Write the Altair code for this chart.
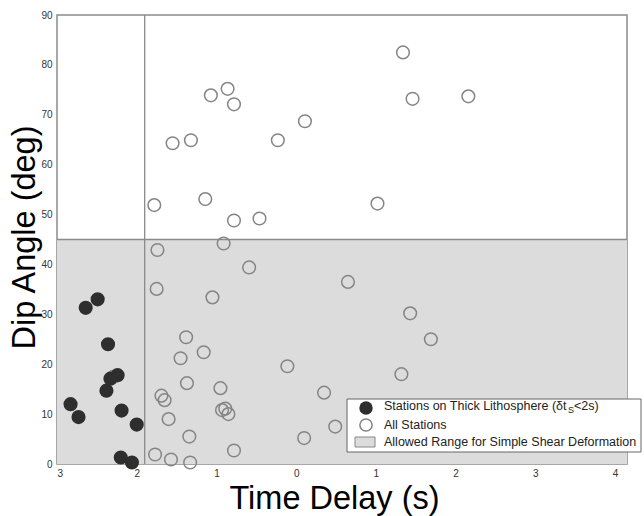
import altair as alt
import pandas as pd

# ---- data ----
thick_x = [-2.49, -2.64, -2.36, -2.24, -2.33, -2.38, -2.83, -2.73, -2.19, -2.00, -2.20, -2.06]
thick_y = [33.0, 31.3, 24.0, 17.8, 17.1, 14.7, 12.0, 9.4, 10.7, 7.9, 1.3, 0.3]

all_x = [-1.74, -0.91, -0.59, -1.75, -1.05, -1.38, -1.16, -1.45, -1.37, -0.95,
         -1.69, -1.65, -0.93, -0.89, -0.85, -1.60, -1.34, -0.78, -1.77, -1.57,
         -1.33, -2.29,
         1.34, -0.86, -1.07, -0.78, 1.46, 2.16, 0.11, -1.55, -1.32, -0.23,
         -1.78, -1.14, -0.78, -0.46, 1.02,
         0.65, 1.43, 1.69, -0.11, 1.32, 0.35, 0.49, 0.10]
all_y = [42.9, 44.2, 39.4, 35.1, 33.4, 25.4, 22.4, 21.2, 16.2, 15.2,
         13.7, 12.8, 10.8, 11.1, 10.0, 9.0, 5.5, 2.7, 1.9, 0.9,
         0.3, 17.5,
         82.5, 75.2, 73.9, 72.1, 73.2, 73.7, 68.7, 64.3, 64.9, 64.9,
         51.9, 53.1, 48.8, 49.2, 52.2,
         36.5, 30.2, 25.0, 19.6, 18.0, 14.3, 7.5, 5.2]

x_ticks = [-3, -2, -1, 0, 1, 2, 3, 4]
y_ticks = [0, 10, 20, 30, 40, 50, 60, 70, 80, 90]
x_domain = [-3, 4.15]
y_domain = [0, 90]
shear_limit = 45
thick_limit = -1.9

legend_labels = ["Stations on Thick Lithosphere (\u03b4t", "S", "<2s)",
                 "All Stations", "Allowed Range for Simple Shear Deformation"]

FONT = "Liberation Sans"

xs = alt.Scale(domain=x_domain, nice=False, zero=False)
ys = alt.Scale(domain=y_domain, nice=False, zero=False)

band_df = pd.DataFrame({"x": [x_domain[0]], "x2": [x_domain[1]],
                        "y": [y_domain[0]], "y2": [shear_limit]})

band = alt.Chart(band_df).mark_rect(color="#dcdcdc").encode(
    x=alt.X("x:Q", scale=xs, axis=alt.Axis(
        values=x_ticks, labelExpr="abs(datum.value)", title="Time Delay (s)",
        grid=False, ticks=False, domain=False, labelFontSize=10, labelColor="#333",
        labelPadding=4, titleFontSize=32.5, titleFontWeight="normal", titleColor="#000",
        titleX=277, titleY=44, titleBaseline="alphabetic", labelFont=FONT, titleFont=FONT)),
    x2="x2:Q",
    y=alt.Y("y:Q", scale=ys, axis=alt.Axis(
        values=y_ticks, title="Dip Angle (deg)", grid=False, ticks=False, domain=False,
        labelFontSize=10, labelColor="#333", labelPadding=5, titleFontSize=32.5,
        titleFontWeight="normal", titleColor="#000", titleX=-23, titleY=222,
        titleAngle=-90, titleBaseline="alphabetic", titleAlign="center",
        labelFont=FONT, titleFont=FONT)),
    y2="y2:Q",
)

hline = alt.Chart(pd.DataFrame({"y": [shear_limit]})).mark_rule(
    color="#8a8a8a", strokeWidth=1.3).encode(y=alt.Y("y:Q", scale=ys))
vline = alt.Chart(pd.DataFrame({"x": [thick_limit]})).mark_rule(
    color="#8a8a8a", strokeWidth=1.3).encode(x=alt.X("x:Q", scale=xs))

all_df = pd.DataFrame({"x": all_x, "y": all_y})
thick_df = pd.DataFrame({"x": thick_x, "y": thick_y})

hollow = alt.Chart(all_df).mark_point(
    shape="circle", filled=False, stroke="#858585", strokeWidth=1.5, size=160,
    opacity=1).encode(x=alt.X("x:Q", scale=xs), y=alt.Y("y:Q", scale=ys))
filled = alt.Chart(thick_df).mark_circle(
    color="#2e2e2e", size=200, opacity=1).encode(
    x=alt.X("x:Q", scale=xs), y=alt.Y("y:Q", scale=ys))

one = pd.DataFrame({"a": [0]})
leg_box = alt.Chart(one).mark_rect(fill="white", stroke="#666", strokeWidth=1).encode(
    x=alt.value(290), x2=alt.value(584), y=alt.value(384), y2=alt.value(437))
leg_filled = alt.Chart(one).mark_circle(color="#2e2e2e", size=180, opacity=1).encode(
    x=alt.value(309), y=alt.value(393))
leg_hollow = alt.Chart(one).mark_point(shape="circle", filled=False, stroke="#858585",
                                       strokeWidth=1.5, size=150, opacity=1).encode(
    x=alt.value(309), y=alt.value(410))
leg_rect = alt.Chart(one).mark_rect(fill="#dcdcdc", stroke="#888", strokeWidth=1).encode(
    x=alt.value(298), x2=alt.value(318), y=alt.value(422), y2=alt.value(432))

def txt(s, x, y, size=12.5):
    return alt.Chart(one).mark_text(align="left", baseline="middle", fontSize=size,
                                    font=FONT, color="#222").encode(
        x=alt.value(x), y=alt.value(y), text=alt.value(s))

leg_t1 = txt(legend_labels[0], 327, 391)
leg_t1s = txt(legend_labels[1], 511, 395, size=9)
leg_t1e = txt(legend_labels[2], 517, 391)
leg_t2 = txt(legend_labels[3], 327, 410)
leg_t3 = txt(legend_labels[4], 327, 427)

chart = alt.layer(
    band, hline, vline, hollow, filled,
    leg_box, leg_filled, leg_hollow, leg_rect, leg_t1, leg_t1s, leg_t1e, leg_t2, leg_t3
).properties(
    width=570, height=449,
    autosize=alt.AutoSizeParams(type="none"),
    padding={"left": 57, "top": 15, "right": 17, "bottom": 52},
    background="white",
).configure_view(stroke="#8a8a8a", strokeWidth=1.5)

chart.save("out.html", embed_options={"renderer": "svg", "actions": False})
